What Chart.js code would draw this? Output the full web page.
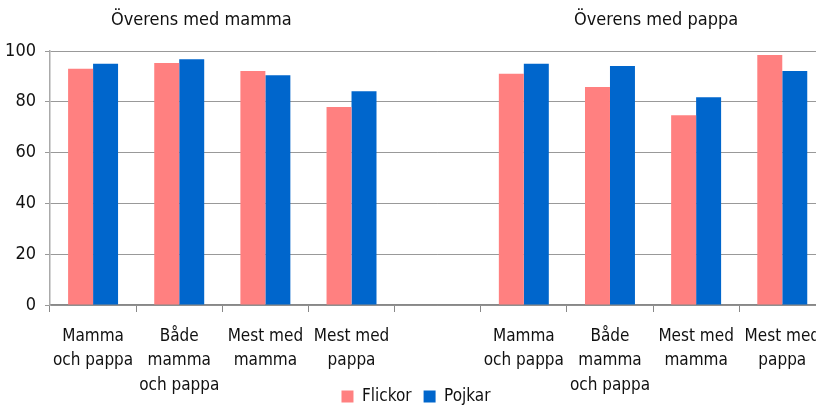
<!DOCTYPE html>
<html>
<head>
<meta charset="utf-8">
<script src="https://cdn.jsdelivr.net/npm/chart.js@4"></script>
<style>
  html, body { margin: 0; padding: 0; background: #fff; overflow: hidden; }
  #wrap { width: 832px; height: 407px; position: relative; }
</style>
</head>
<body>
<div id="wrap"><canvas id="chart"></canvas></div>
<script>
const categories = [
    ['Mamma', 'och pappa'],
    ['Både', 'mamma', 'och pappa'],
    ['Mest med', 'mamma'],
    ['Mest med', 'pappa'],
    '',
    ['Mamma', 'och pappa'],
    ['Både', 'mamma', 'och pappa'],
    ['Mest med', 'mamma'],
    ['Mest med', 'pappa']
];
const flickor = [93, 95.3, 92.1, 78, null, 91, 85.8, 74.7, 98.4];
const pojkar = [95, 96.8, 90.5, 84.2, null, 95, 94.1, 81.8, 92.1];
const yTicks = [0, 20, 40, 60, 80, 100];
const groupTitles = ['Överens med mamma', 'Överens med pappa'];

const FONT = "'Liberation Sans Narrow', 'DejaVu Sans Condensed', sans-serif";

// group headings above the two halves of the chart
const groupTitlePlugin = {
    id: 'groupTitles',
    afterDraw(chart) {
        const ctx = chart.ctx;
        const x = chart.scales.x;
        ctx.save();
        ctx.font = '18px ' + FONT;
        ctx.fillStyle = '#111';
        ctx.textAlign = 'center';
        ctx.textBaseline = 'middle';
        ctx.fillText(groupTitles[0], x.getPixelForValue(1.5) - 21, 20);
        ctx.fillText(groupTitles[1], x.getPixelForValue(6.5) + 3, 20);
        ctx.restore();
    }
};

const ctx = document.getElementById('chart').getContext('2d');
const chart = new Chart(ctx, {
    type: 'bar',
    data: {
        labels: categories,
        datasets: [{
            label: 'Flickor',
            data: flickor,
            backgroundColor: '#FF8080'
        }, {
            label: 'Pojkar',
            data: pojkar,
            backgroundColor: '#0066CC'
        }]
    },
    plugins: [groupTitlePlugin],
    options: {
        responsive: true,
        maintainAspectRatio: false,
        animation: false,
        layout: { padding: { top: 51, left: 0, right: 0, bottom: -8 } },
        datasets: {
            bar: { barPercentage: 1, categoryPercentage: 0.58 }
        },
        plugins: {
            legend: {
                position: 'bottom',
                labels: {
                    boxWidth: 12,
                    boxHeight: 12,
                    padding: 12,
                    color: '#111',
                    font: { family: FONT, size: 17 }
                }
            },
            tooltip: { enabled: false }
        },
        scales: {
            x: {
                afterFit(scale) {
                    scale.height = 71;
                    // let the 3-line labels run past the scale box (legend sits between them)
                    scale._computeLabelArea = () => undefined;
                },
                grid: {
                    offset: true,
                    drawOnChartArea: false,
                    color: '#888',
                    tickLength: 7
                },
                border: { color: '#888', width: 1.5 },
                ticks: {
                    color: '#111',
                    maxRotation: 0,
                    autoSkip: false,
                    padding: 12,
                    font: { family: FONT, size: 17, lineHeight: 1.45 }
                }
            },
            y: {
                min: 0,
                max: 100,
                afterFit(scale) { scale.width = 50; },
                afterBuildTicks(scale) {
                    scale.ticks = yTicks.map(v => ({ value: v }));
                },
                grid: {
                    color: '#999',
                    tickLength: 5
                },
                border: { color: '#aaa', width: 1.5 },
                ticks: {
                    color: '#111',
                    padding: 9,
                    font: { family: FONT, size: 18 }
                }
            }
        }
    }
});
</script>
</body>
</html>
